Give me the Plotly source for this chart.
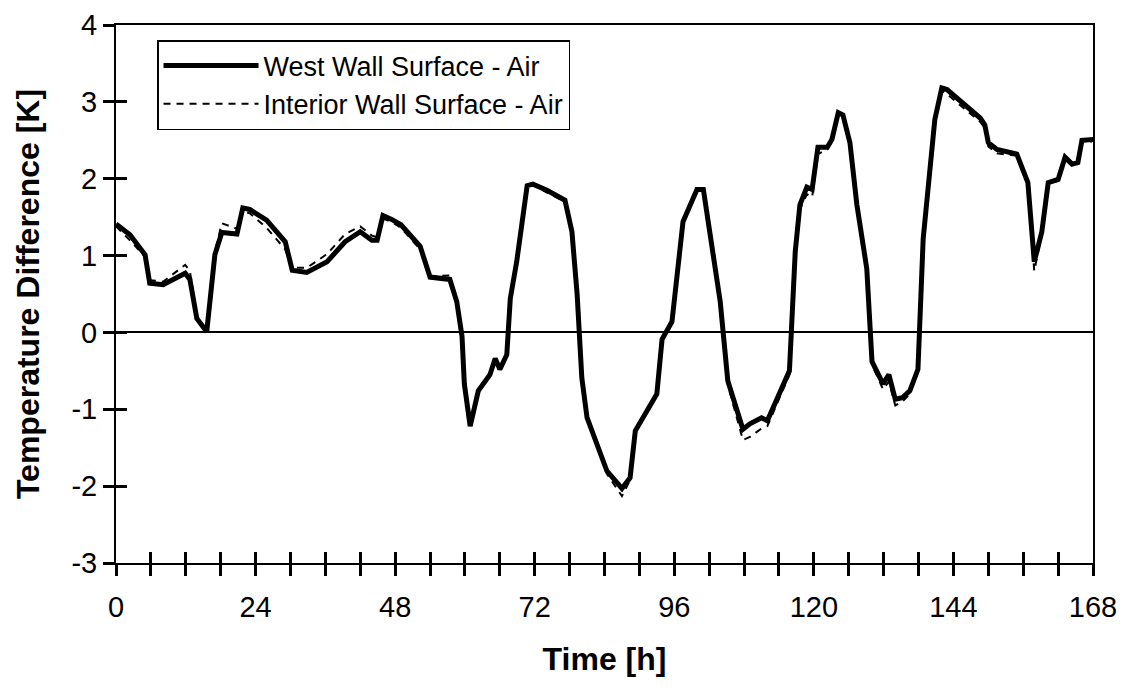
import plotly.graph_objects as go

time_h = [0, 2.4, 5.0, 5.8, 8.1, 11.9, 12.7, 13.9, 15.6, 17.0, 18.2, 20.8, 21.8, 23.0, 25.9,
          29.1, 30.3, 32.8, 36.3, 39.4, 42.0, 44.0, 44.9, 45.9, 47.4, 49.0, 52.3, 54.0, 57.4,
          58.6, 59.5, 59.9, 60.9, 62.3, 64.3, 65.2, 66.0, 67.2, 67.8, 68.9, 70.7, 71.7, 74.1,
          77.2, 78.4, 79.3, 80.1, 81.0, 84.4, 87.0, 88.4, 89.3, 93.0, 93.9, 95.6, 97.5, 99.9,
          101.0, 103.9, 105.2, 107.8, 109.0, 111.0, 112.0, 115.8, 116.8, 117.6, 118.8, 119.7,
          120.7, 122.3, 123.1, 124.2, 125.0, 126.2, 127.4, 129.1, 130.0, 131.9, 132.9, 134.0,
          135.2, 136.5, 137.9, 138.8, 140.8, 142.0, 142.9, 148.6, 149.4, 150.0, 151.5, 154.9,
          156.8, 157.9, 159.2, 160.3, 162.0, 163.2, 164.4, 165.4, 166.1, 167.8, 168.0]

west_wall = [1.41, 1.27, 1.01, 0.64, 0.62, 0.77, 0.69, 0.18, 0.01, 1.01, 1.30, 1.28, 1.62, 1.60, 1.46,
             1.18, 0.81, 0.78, 0.92, 1.18, 1.31, 1.20, 1.20, 1.52, 1.47, 1.40, 1.12, 0.72, 0.69,
             0.40, -0.05, -0.67, -1.22, -0.76, -0.55, -0.34, -0.48, -0.29, 0.44, 0.92, 1.91, 1.93, 1.85,
             1.72, 1.31, 0.49, -0.59, -1.11, -1.80, -2.03, -1.89, -1.28, -0.80, -0.09, 0.14, 1.44, 1.86,
             1.86, 0.40, -0.63, -1.26, -1.19, -1.11, -1.15, -0.50, 1.05, 1.66, 1.89, 1.86,
             2.41, 2.41, 2.51, 2.86, 2.83, 2.47, 1.66, 0.83, -0.38, -0.67, -0.55, -0.87,
             -0.85, -0.76, -0.48, 1.22, 2.77, 3.18, 3.16, 2.79, 2.70, 2.47, 2.38, 2.32,
             1.95, 0.92, 1.31, 1.95, 1.99, 2.28, 2.19, 2.21, 2.50, 2.51, 2.48]

interior_wall = [1.38, 1.20, 0.98, 0.68, 0.66, 0.88, 0.80, 0.22, 0.03, 1.05, 1.42, 1.35, 1.58, 1.55, 1.36,
                 1.08, 0.84, 0.84, 1.02, 1.28, 1.38, 1.26, 1.24, 1.48, 1.44, 1.36, 1.08, 0.73, 0.74,
                 0.42, -0.05, -0.66, -1.20, -0.74, -0.55, -0.35, -0.48, -0.30, 0.40, 0.90, 1.88, 1.92, 1.82,
                 1.70, 1.30, 0.48, -0.60, -1.12, -1.84, -2.13, -1.92, -1.30, -0.82, -0.10, 0.12, 1.42, 1.84,
                 1.84, 0.38, -0.68, -1.40, -1.36, -1.25, -1.22, -0.55, 1.00, 1.60, 1.80, 1.76,
                 2.32, 2.38, 2.48, 2.84, 2.82, 2.45, 1.64, 0.80, -0.42, -0.74, -0.64, -0.95,
                 -0.90, -0.80, -0.50, 1.18, 2.74, 3.15, 3.10, 2.74, 2.66, 2.42, 2.33, 2.30,
                 1.92, 0.80, 1.28, 1.93, 1.97, 2.25, 2.17, 2.19, 2.48, 2.50, 2.48]

x_tickvals = list(range(0, 169, 6))
x_ticktext = [str(v) if v % 24 == 0 else "" for v in x_tickvals]
y_tickvals = [-3, -2, -1, 0, 1, 2, 3, 4]
y_ticktext = ["-3", "-2", "-1", "0", "1", "2", "3", "4"]

FONT = "Liberation Sans, Arial, sans-serif"
TICK_SIZE = 29

fig = go.Figure()
fig.add_trace(go.Scatter(x=time_h, y=west_wall, mode="lines", name="West Wall Surface - Air",
                         line=dict(color="black", width=5)))
fig.add_trace(go.Scatter(x=time_h, y=interior_wall, mode="lines", name="Interior Wall Surface - Air",
                         line=dict(color="black", width=2, dash="7px,6px")))
# invisible helper trace so the overlay axes (inward half of the crossing ticks) render
fig.add_trace(go.Scatter(x=[0], y=[0], xaxis="x2", yaxis="y2", mode="markers",
                         marker=dict(opacity=0), showlegend=False, hoverinfo="skip"))

axis_common = dict(showgrid=False, linecolor="black", linewidth=2, ticks="outside",
                   ticklen=11, tickwidth=2.5, tickcolor="black", automargin=False,
                   ticklabeloverflow="allow",
                   tickfont=dict(family=FONT, size=TICK_SIZE, color="black"))
inner_common = dict(showticklabels=False, ticks="inside", ticklen=11, tickwidth=2.5,
                    tickcolor="black", showgrid=False, showline=False, zeroline=False,
                    automargin=False)

fig.update_layout(
    width=1112, height=671,
    paper_bgcolor="white", plot_bgcolor="white",
    margin=dict(l=108, r=27, t=17, b=116, autoexpand=False),
    font=dict(family=FONT, color="black"),
    xaxis=dict(range=[0, 168], tickvals=x_tickvals, ticktext=x_ticktext,
               mirror=True, zeroline=False, ticklabelstandoff=6,
               title=dict(text="<b>Time [h]</b>", font=dict(family=FONT, size=32), standoff=26),
               **axis_common),
    yaxis=dict(range=[-3, 4], tickvals=y_tickvals, ticktext=y_ticktext, mirror=True,
               zeroline=True, zerolinecolor="black", zerolinewidth=2,
               title=dict(text="<b>Temperature Difference [K]</b>", font=dict(family=FONT, size=32),
                          standoff=22),
               **axis_common),
    xaxis2=dict(range=[0, 168], overlaying="x", anchor="y2", tickvals=x_tickvals, **inner_common),
    yaxis2=dict(range=[-3, 4], overlaying="y", anchor="x2", tickvals=y_tickvals, **inner_common),
    legend=dict(x=0.042, y=0.972, xanchor="left", yanchor="top",
                bgcolor="white", bordercolor="black", borderwidth=1.5,
                font=dict(family=FONT, size=27, color="black"),
                tracegroupgap=0, itemwidth=95),
    showlegend=True,
)

fig.write_html("out.html")
